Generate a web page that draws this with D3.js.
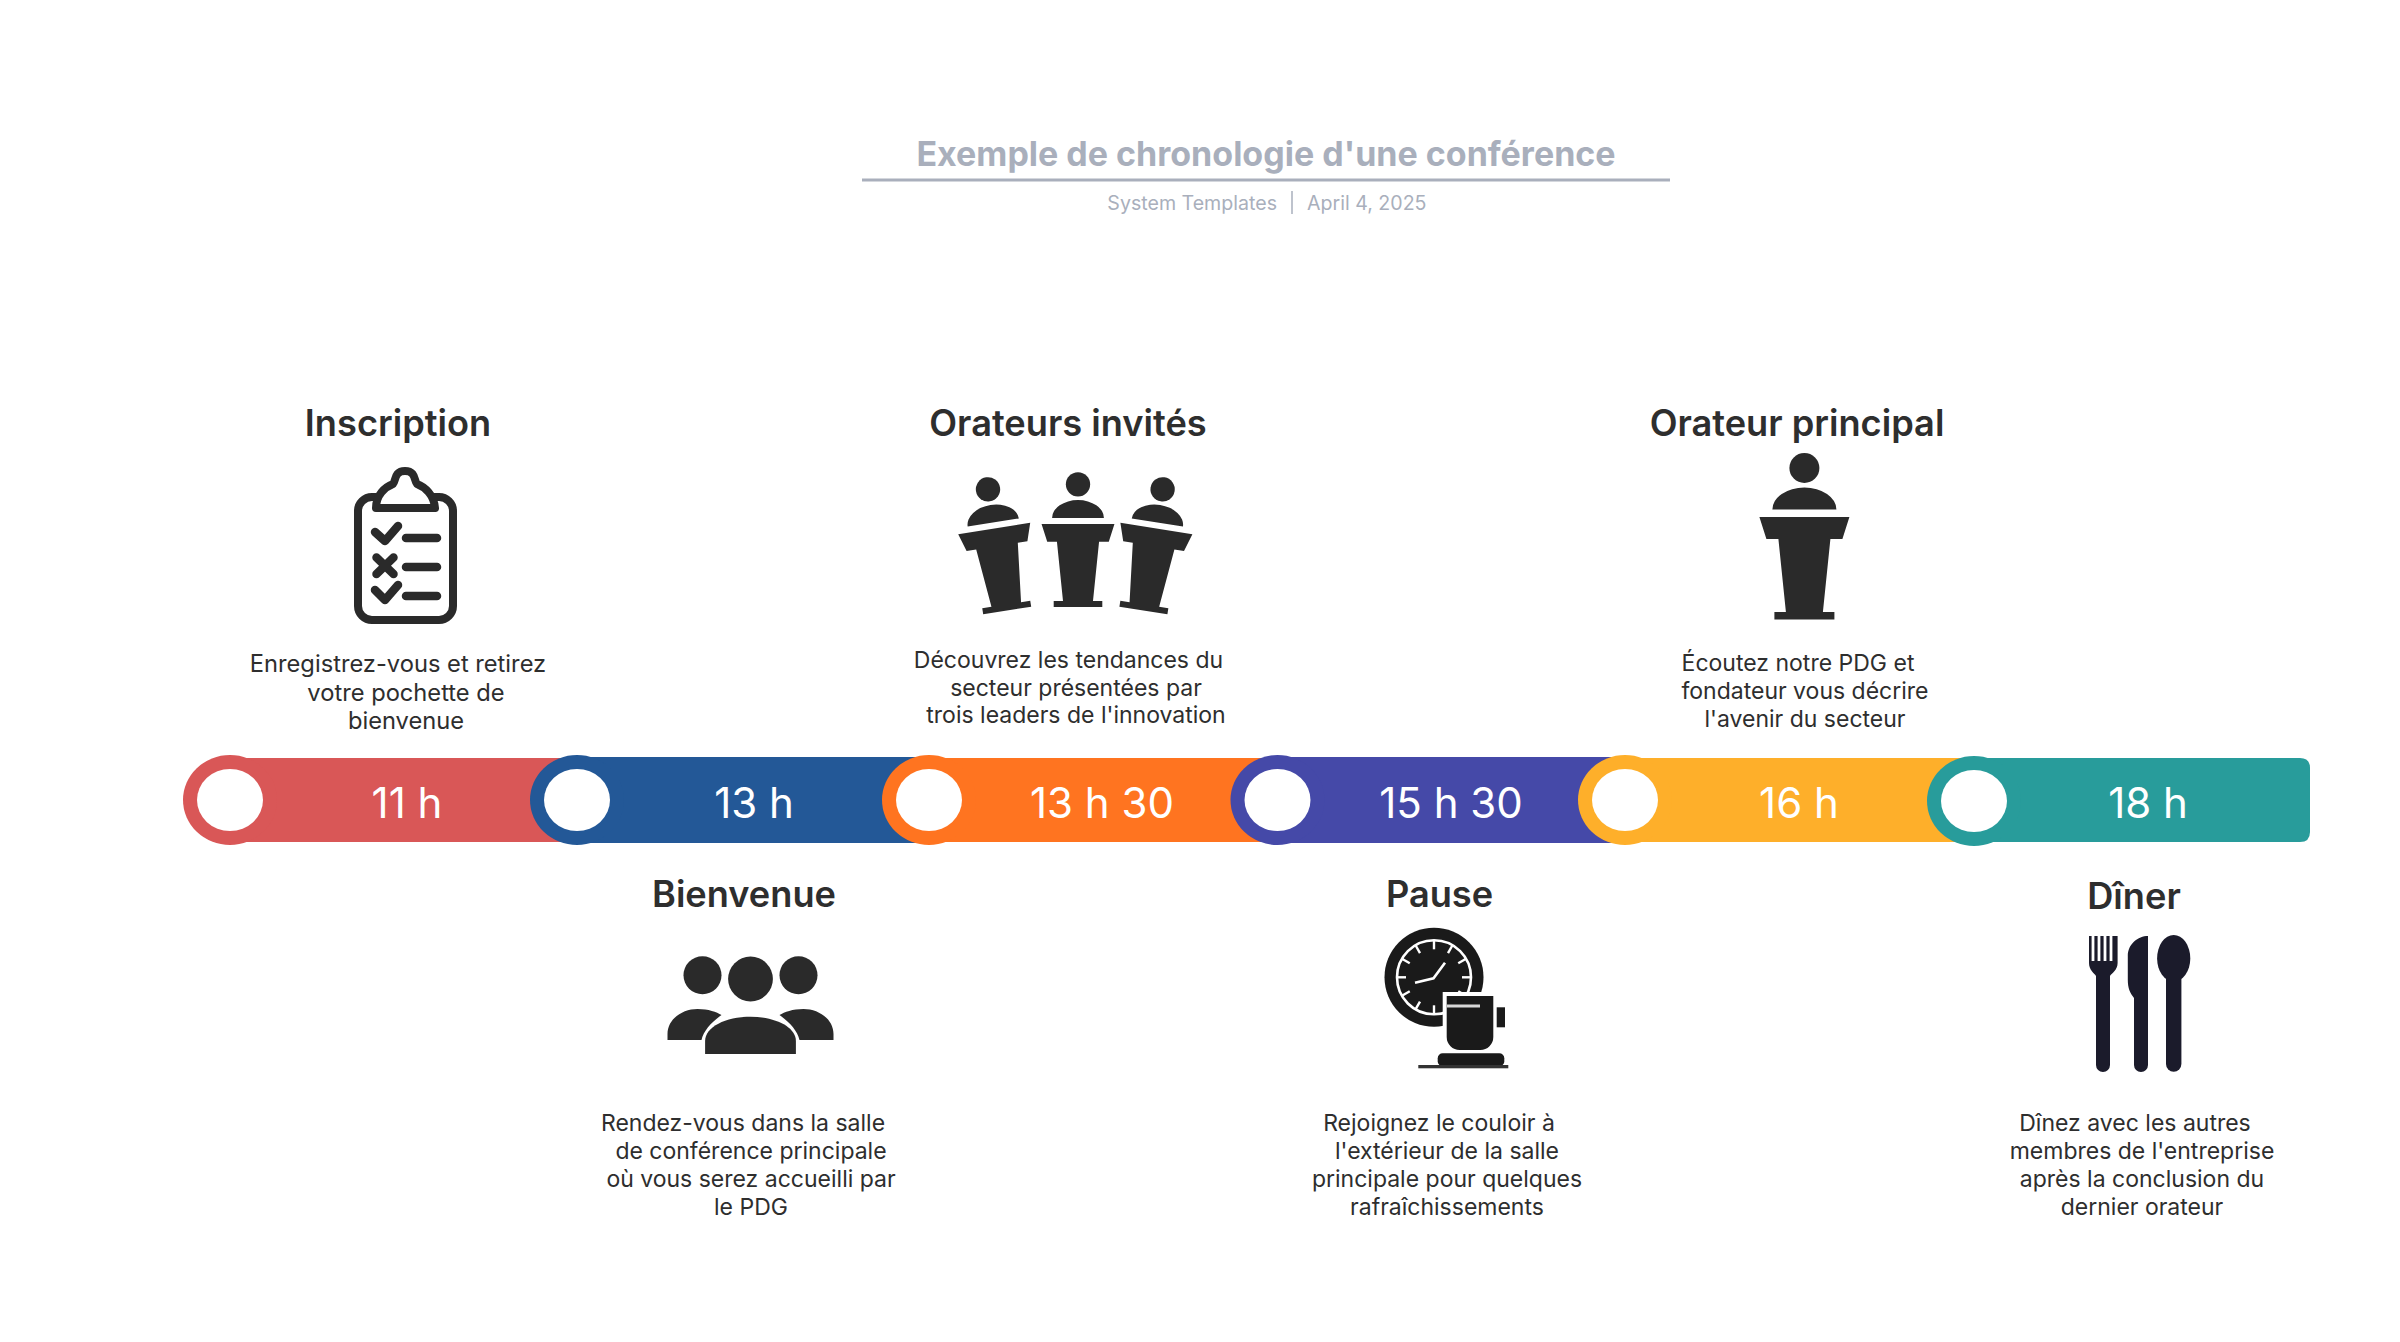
<!DOCTYPE html>
<html lang="fr">
<head>
<meta charset="utf-8">
<title>Exemple de chronologie d'une conférence</title>
<script src="https://cdn.jsdelivr.net/npm/d3@7"></script>
<style>
html,body{margin:0;padding:0;background:#fff}
svg{display:block}
text{font-family:Inter,"Noto Sans",sans-serif}
</style>
</head>
<body>
<svg id="chart" width="2400" height="1342" viewBox="0 0 2400 1342"></svg>
<script>
// ---- content ----
const chartTitle = "Exemple de chronologie d'une conférence";
const chartAuthor = "System Templates";
const chartDate = "April 4, 2025";
const stepTimes = ["11 h", "13 h", "13 h 30", "15 h 30", "16 h", "18 h"];
const stepTitles = ["Inscription", "Bienvenue", "Orateurs invités", "Pause", "Orateur principal", "Dîner"];
const stepDetails = [
  ["Enregistrez-vous et retirez", "votre pochette de", "bienvenue"],
  ["Rendez-vous dans la salle", "de conférence principale", "où vous serez accueilli par", "le PDG"],
  ["Découvrez les tendances du", "secteur présentées par", "trois leaders de l'innovation"],
  ["Rejoignez le couloir à", "l'extérieur de la salle", "principale pour quelques", "rafraîchissements"],
  ["Écoutez notre PDG et", "fondateur vous décrire", "l'avenir du secteur"],
  ["Dînez avec les autres", "membres de l'entreprise", "après la conclusion du", "dernier orateur"]
];
const stepIcons = ["clipboard", "people", "podiums", "breakClock", "podium", "cutlery"];

// ---- styles & layout (separate from the content) ----
const stepColors = ["#D95757", "#235897", "#FF7420", "#4549A8", "#FEAF2A", "#289C9B"];
const nodeCenters = [230, 577, 929, 1277.5, 1625, 1974];
const nodeCy = [800, 800, 800, 800, 800, 801];
const bandInset = [0, -1, 0, -1, 0, 0];
const timeCenters = [407, 754, 1102, 1451, 1799, 2148];
const titleCenters = [398, 744, 1068, 1439.5, 1797, 2134];
const titleBaselines = [436, 907, 436, 907, 436, 909];
const detailFirstLineCenters = [398, 743, 1068.5, 1439, 1798, 2135];
const detailCenters = [406, 751, 1076, 1447, 1805, 2142];
const detailBaselines = [672, 1131, 668, 1131, 670.5, 1131];
const detailLineHeights = [28.5, 28, 27.5, 28, 28, 28];
const detailSizes = [23.7, 23, 23, 23, 23, 23];
const iconAnchors = [[0,0],[750.5,979],[0,0],[0,0],[1804.4,468],[0,0]];

const ink = "#2A2A2A", titleInk = "#2E2E2E", muted = "#A9AFBC";
const svg = d3.select("#chart");

// ---- header ----
svg.append("text").attr("x", 1266).attr("y", 166).attr("text-anchor", "middle")
  .attr("font-size", 34).attr("font-weight", 700).attr("fill", muted).text(chartTitle);
svg.append("line").attr("x1", 862).attr("x2", 1670).attr("y1", 180).attr("y2", 180)
  .attr("stroke", muted).attr("stroke-width", 3);
svg.append("text").attr("x", 1277).attr("y", 210).attr("text-anchor", "end")
  .attr("font-size", 19.6).attr("fill", muted).text(chartAuthor);
svg.append("line").attr("x1", 1292).attr("x2", 1292).attr("y1", 191).attr("y2", 214)
  .attr("stroke", muted).attr("stroke-width", 1.5);
svg.append("text").attr("x", 1307).attr("y", 210)
  .attr("font-size", 19.6).attr("fill", muted).text(chartDate);

// ---- timeline ----
const x = d3.scaleOrdinal().domain(stepTimes).range(nodeCenters);
const band = {y: 758, h: 84, endX: 2310};

const segs = svg.append("g").selectAll("g").data(stepTimes).join("g");
segs.append("path")
  .attr("fill", (d, i) => stepColors[i])
  .attr("d", (d, i) => {
    const x0 = x(d), top = band.y + bandInset[i], bot = band.y + band.h - bandInset[i];
    if (i < stepTimes.length - 1) return `M${x0},${top}H${x(stepTimes[i + 1]) + 2}V${bot}H${x0}Z`;
    const r = 10, xe = band.endX;
    return `M${x0},${top}H${xe - r}Q${xe},${top} ${xe},${top + r}V${bot - r}Q${xe},${bot} ${xe - r},${bot}H${x0}Z`;
  });
segs.append("ellipse").attr("cx", d => x(d)).attr("cy", (d, i) => nodeCy[i]).attr("rx", 47).attr("ry", 45)
  .attr("fill", (d, i) => stepColors[i]);
segs.append("ellipse").attr("cx", d => x(d)).attr("cy", (d, i) => nodeCy[i]).attr("rx", 33).attr("ry", 31)
  .attr("fill", "#fff");
segs.append("text").attr("x", (d, i) => timeCenters[i]).attr("y", 818).attr("text-anchor", "middle")
  .attr("font-size", 42).attr("fill", "#fff").text(d => d);

// ---- titles & descriptions ----
svg.append("g").selectAll("text").data(stepTitles).join("text")
  .attr("x", (d, i) => titleCenters[i]).attr("y", (d, i) => titleBaselines[i])
  .attr("text-anchor", "middle").attr("font-size", 36.2).attr("font-weight", 600)
  .attr("fill", titleInk).text(d => d);

const details = svg.append("g").selectAll("text").data(stepDetails).join("text")
  .attr("text-anchor", "middle").attr("font-size", (d, i) => detailSizes[i]).attr("fill", titleInk);
details.selectAll("tspan").data((lines, i) => lines.map((l, j) => ({l, i, j}))).join("tspan")
  .attr("x", d => d.j === 0 ? detailFirstLineCenters[d.i] : detailCenters[d.i])
  .attr("y", d => detailBaselines[d.i] + d.j * detailLineHeights[d.i])
  .text(d => d.l);

// ---- pictograms ----
const podiumShape = "M-32,41.5A32,22 0 0 1 32,41.5Z M-45,49H45L38,71H26L18.5,144H30V151.5H-30V144H-18.5L-26,71H-38Z";
function podium(g, cx, cy, scale, rot) {
  const p = g.append("g").attr("transform", `translate(${cx},${cy}) rotate(${rot}) scale(${scale})`).attr("fill", ink);
  p.append("circle").attr("r", 15);
  p.append("path").attr("d", podiumShape);
}
const drawIcon = {
  clipboard(g) {
    const s = g.append("g").attr("fill", "none").attr("stroke", ink).attr("stroke-width", 8)
      .attr("stroke-linecap", "round").attr("stroke-linejoin", "round");
    s.append("rect").attr("x", 358).attr("y", 497).attr("width", 95).attr("height", 123).attr("rx", 14);
    s.append("path").attr("fill", "#fff")
      .attr("d", "M376,508C376,495 385,487 393,484C396,481 394,471 405,471C416,471 414,481 417,484C425,487 434,495 435,508Z");
    s.append("path").attr("stroke-width", 8.5).attr("d", "M375,532L385,541L398,526M375,590L385,600L398,585M376.5,557.5L393.5,574M393.5,557.5L376.5,574");
    s.append("path").attr("stroke-width", 8.5).attr("d", "M406,538H437M406,567H437M406,596H437");
  },
  people(g, a) {
    const p = g.append("g").attr("transform", `translate(${a[0]},${a[1]})`).attr("fill", ink);
    p.append("circle").attr("r", 22.4);
    p.append("circle").attr("cx", -48).attr("cy", -3.7).attr("r", 19);
    p.append("circle").attr("cx", 48).attr("cy", -3.7).attr("r", 19);
    p.append("path").attr("d", "M-45.4,75V62C-45.4,48 -25,37.7 0,37.7C25,37.7 45.4,48 45.4,62V75Z");
    p.append("path").attr("d", "M-83,61V55C-83,40 -68,30 -53,30C-42,30 -34,33 -29,36C-39,43 -47,52 -49,61Z");
    p.append("path").attr("d", "M83,61V55C83,40 68,30 53,30C42,30 34,33 29,36C39,43 47,52 49,61Z");
  },
  podiums(g) {
    podium(g, 988, 489.3, 0.81, -9);
    podium(g, 1078, 484.3, 0.81, 0);
    podium(g, 1162.6, 489.3, 0.81, 9);
  },
  podium(g, a) { podium(g, a[0], a[1], 1, 0); },
  breakClock(g) {
    const dark = "#1A1A1A", cx = 1434, cy = 977.3;
    g.append("circle").attr("cx", cx).attr("cy", cy).attr("r", 49.5).attr("fill", dark);
    g.append("circle").attr("cx", cx).attr("cy", cy).attr("r", 37).attr("fill", "none").attr("stroke", "#fff").attr("stroke-width", 2.6);
    g.selectAll("line.tick").data(d3.range(12)).join("line").attr("class", "tick")
      .attr("x1", d => cx + 37 * Math.sin(d * Math.PI / 6)).attr("y1", d => cy - 37 * Math.cos(d * Math.PI / 6))
      .attr("x2", d => cx + 28 * Math.sin(d * Math.PI / 6)).attr("y2", d => cy - 28 * Math.cos(d * Math.PI / 6))
      .attr("stroke", "#fff").attr("stroke-width", 2.4);
    g.append("path").attr("fill", "none").attr("stroke", "#fff").attr("stroke-width", 2.6)
      .attr("d", "M1415,982.7L1433.5,978.3L1445,962.7");
    g.append("path").attr("fill", dark).attr("stroke", "#fff").attr("stroke-width", 8)
      .attr("paint-order", "stroke")
      .attr("d", "M1446.7,996H1493.3V1037A13,13 0 0 1 1480.3,1050H1459.7A13,13 0 0 1 1446.7,1037Z");
    g.append("line").attr("x1", 1447).attr("x2", 1480).attr("y1", 1006).attr("y2", 1006).attr("stroke", "#d8d8d8").attr("stroke-width", 3);
    g.append("rect").attr("x", 1496.7).attr("y", 1007.3).attr("width", 8.3).attr("height", 20).attr("fill", dark);
    g.append("rect").attr("x", 1437.7).attr("y", 1053.3).attr("width", 66.6).attr("height", 13).attr("rx", 5).attr("fill", dark);
    g.append("rect").attr("x", 1418.3).attr("y", 1065).attr("width", 90).attr("height", 3.3).attr("fill", "#333");
  },
  cutlery(g) {
    const navy = "#1B1B2B";
    g.append("path").attr("fill", navy).attr("d",
      "M2089,936H2091.6V961H2094.4V936H2097.6V961H2100.4V936H2103.6V961H2106.4V936H2109.6V961H2112.4V936H2115V936H2117.6V963C2117.6,970 2112,973 2110,976V1065A7,7 0 0 1 2096,1065V976C2094,973 2089,970 2089,963Z");
    g.append("path").attr("fill", navy).attr("d",
      "M2148,936V1065A7,7 0 0 1 2134,1065V998C2130,993 2127.8,988 2127.8,980V956C2127.8,944 2138,936 2148,936Z");
    g.append("ellipse").attr("cx", 2173.7).attr("cy", 958.3).attr("rx", 16.6).attr("ry", 23.3).attr("fill", navy);
    g.append("path").attr("fill", navy).attr("d", "M2166,970H2181.4V1064A7.7,7.7 0 0 1 2166,1064Z");
  }
};
stepIcons.forEach((name, i) => drawIcon[name](svg.append("g").attr("class", "icon-" + name), iconAnchors[i]));
</script>
</body>
</html>
